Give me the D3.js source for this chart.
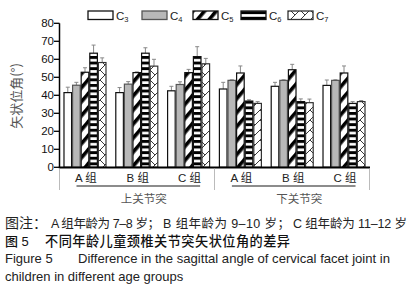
<!DOCTYPE html>
<html><head><meta charset="utf-8">
<script src="https://cdn.jsdelivr.net/npm/d3@7"></script>
<style>
html,body{margin:0;padding:0;background:#fff;}
svg{display:block;font-family:"Liberation Sans",Arial,"Noto Sans CJK SC",sans-serif;}
</style></head>
<body><svg id="c" width="414" height="299"></svg>
<script>
const groups = ["A 组","B 组","C 组","A 组","B 组","C 组"];
const joints = ["上关节突","下关节突"];
const series = ["C3","C4","C5","C6","C7"];
const C3 = [41.5, 41.5, 42.5, 43.5, 45.0, 45.5];
const C4 = [45.6, 46.2, 46.0, 48.3, 48.3, 48.3];
const C5 = [52.8, 52.6, 52.6, 52.4, 54.2, 52.4];
const C6 = [63.4, 63.4, 61.5, 36.8, 36.5, 35.5];
const C7 = [58.2, 56.2, 57.5, 35.5, 35.9, 36.5];
const C3sd = [3.0, 2.8, 2.5, 3.7, 2.2, 3.0];
const C4sd = [1.6, 1.4, 1.5, 0.3, 0.3, 0.3];
const C5sd = [2.5, 0.4, 1.8, 3.9, 3.0, 3.9];
const C6sd = [4.5, 3.0, 5.5, 0.7, 1.5, 1.0];
const C7sd = [2.6, 3.8, 3.0, 1.0, 2.0, 0.6];
const yTicks = [0,10,20,30,40,50,60,70,80];

const values = [C3,C4,C5,C6,C7];
const sds = [C3sd,C4sd,C5sd,C6sd,C7sd];

const svg = d3.select("#c");
const yS = d3.scaleLinear().domain([0,80]).range([167.3,23.3]);

const axG = svg.append("g").attr("class","yaxis");
axG.append("line").attr("x1",59.5).attr("x2",59.5).attr("y1",yS(80)).attr("y2",yS(0))
  .attr("stroke","#000").attr("stroke-width",1.5);
yTicks.forEach(t=>{
  axG.append("line").attr("x1",54).attr("x2",59.5).attr("y1",yS(t)).attr("y2",yS(t))
    .attr("stroke","#000").attr("stroke-width",1.3);
  axG.append("text").attr("x",54).attr("y",yS(t)+4).attr("text-anchor","end")
    .attr("font-size",11.5).attr("fill","#111").text(String(t));
});

const defs = svg.append("defs");
const p5 = defs.append("pattern").attr("id","p5").attr("patternUnits","userSpaceOnUse")
  .attr("width",9).attr("height",9).attr("patternTransform","rotate(40)");
p5.append("rect").attr("width",9).attr("height",9).attr("fill","#fff");
p5.append("rect").attr("x",0).attr("width",3.6).attr("height",9).attr("fill","#000");
const p6 = defs.append("pattern").attr("id","p6").attr("patternUnits","userSpaceOnUse")
  .attr("width",6).attr("height",5.6);
p6.append("rect").attr("width",6).attr("height",5.6).attr("fill","#fff");
p6.append("rect").attr("y",0).attr("width",6).attr("height",2.9).attr("fill","#000");
const p7 = defs.append("pattern").attr("id","p7").attr("patternUnits","userSpaceOnUse")
  .attr("width",10).attr("height",10);
p7.append("rect").attr("width",10).attr("height",10).attr("fill","#fff");
p7.append("path").attr("d","M0,10L10,0M-2,2L2,-2M8,12L12,8M0,0L5,5").attr("stroke","#222").attr("stroke-width",0.9).attr("fill","none");
const fills = ["#fff","#b8b8b8","url(#p5)","url(#p6)","url(#p7)"];
const strokes = ["#111","#555","#111","#111","#333"];

const x0 = d3.scaleBand().domain(d3.range(groups.length)).range([59.5,369.5]).paddingInner(0.17).paddingOuter(0.077);
const x1 = d3.scaleBand().domain(series).range([0,x0.bandwidth()]).padding(0);

series.forEach((s,si)=>{
  const g = svg.append("g");
  groups.forEach((gr,gi)=>{
    const v = values[si][gi], sd = sds[si][gi];
    const bx = x0(gi)+x1(s), bw = x1.bandwidth();
    const cx = bx+bw/2;
    g.append("line").attr("x1",cx).attr("x2",cx).attr("y1",yS(v)).attr("y2",yS(v+sd))
      .attr("stroke","#888").attr("stroke-width",1);
    g.append("line").attr("x1",cx-2).attr("x2",cx+2).attr("y1",yS(v+sd)).attr("y2",yS(v+sd))
      .attr("stroke","#888").attr("stroke-width",1);
    g.append("rect").attr("x",bx+0.5).attr("y",yS(v)).attr("width",bw-1).attr("height",yS(0)-yS(v))
      .attr("fill",fills[si]).attr("stroke",strokes[si]).attr("stroke-width",1.2);
  });
});

svg.append("line").attr("x1",58.8).attr("x2",370).attr("y1",yS(0)+0.3).attr("y2",yS(0)+0.3)
  .attr("stroke","#000").attr("stroke-width",2);
[59.5, 214.5, 369.5].forEach(xx=>{
  svg.append("line").attr("x1",xx).attr("x2",xx).attr("y1",yS(0)+1).attr("y2",190)
    .attr("stroke","#aaa").attr("stroke-width",0.8);
});
groups.forEach((gr,gi)=>{
  svg.append("text").attr("x",x0(gi)+x0.bandwidth()/2+1).attr("y",182)
    .attr("text-anchor","middle").attr("font-size",11.5).attr("fill","#222").text(gr);
});
[[0,2],[3,5]].forEach((r,ji)=>{
  const xa = x0(r[0])+13, xb = x0(r[1])+x0.bandwidth()-10;
  svg.append("line").attr("x1",xa).attr("x2",xb).attr("y1",186).attr("y2",186)
    .attr("stroke","#666").attr("stroke-width",1.6);
  svg.append("text").attr("x",(x0(r[0])+x0(r[1])+x0.bandwidth())/2+7).attr("y",203)
    .attr("text-anchor","middle").attr("font-size",11.5).attr("fill","#555")
    .attr("font-family","Noto Sans CJK SC").text(joints[ji]);
});

svg.append("text").attr("transform","translate(21,96) rotate(-90)")
  .attr("text-anchor","middle").attr("font-size",13).attr("fill","#555")
  .attr("font-family","Noto Sans CJK SC").text("矢状位角(°)");

const legX = [88,142,193,241,288];
series.forEach((s,si)=>{
  svg.append("rect").attr("x",legX[si]).attr("y",11).attr("width",25).attr("height",8.5)
    .attr("fill",fills[si]).attr("stroke",strokes[si]).attr("stroke-width",1.3);
  const t = svg.append("text").attr("x",legX[si]+28).attr("y",19.5).attr("font-size",11.5).attr("fill","#222");
  t.append("tspan").text(s[0]);
  t.append("tspan").attr("font-size",7.5).attr("dy",2).text(s.slice(1));
});

const cap = svg.append("g").attr("fill","#222");
const capFont = "Liberation Sans, Noto Sans CJK SC, sans-serif";
cap.append("text").attr("x",5).attr("y",228).attr("font-size",14).attr("font-family",capFont).text("图注：");
[["A 组年龄为 7–8 岁；",51,109],["B 组年龄为 9–10 岁；",163,127],["C 组年龄为 11–12 岁",293,114]].forEach(p=>{
  cap.append("text").attr("x",p[1]).attr("y",228).attr("font-size",12.5)
    .attr("font-family",capFont).attr("textLength",p[2]).attr("lengthAdjust","spacing").text(p[0]);
});
cap.append("text").attr("x",5).attr("y",246).attr("font-size",13).attr("font-weight",500)
  .attr("font-family",capFont).attr("fill","#111").text("图 5");
cap.append("text").attr("x",45).attr("y",246).attr("font-size",13.2).attr("font-weight",500)
  .attr("font-family","Noto Sans CJK SC").attr("fill","#111").attr("textLength",245).attr("lengthAdjust","spacing")
  .text("不同年龄儿童颈椎关节突矢状位角的差异");
cap.append("text").attr("x",5).attr("y",263).attr("font-size",13).text("Figure 5");
cap.append("text").attr("x",78).attr("y",263).attr("font-size",13.1)
  .text("Difference in the sagittal angle of cervical facet joint in");
cap.append("text").attr("x",5).attr("y",281).attr("font-size",13).text("children in different age groups");
</script></body></html>
